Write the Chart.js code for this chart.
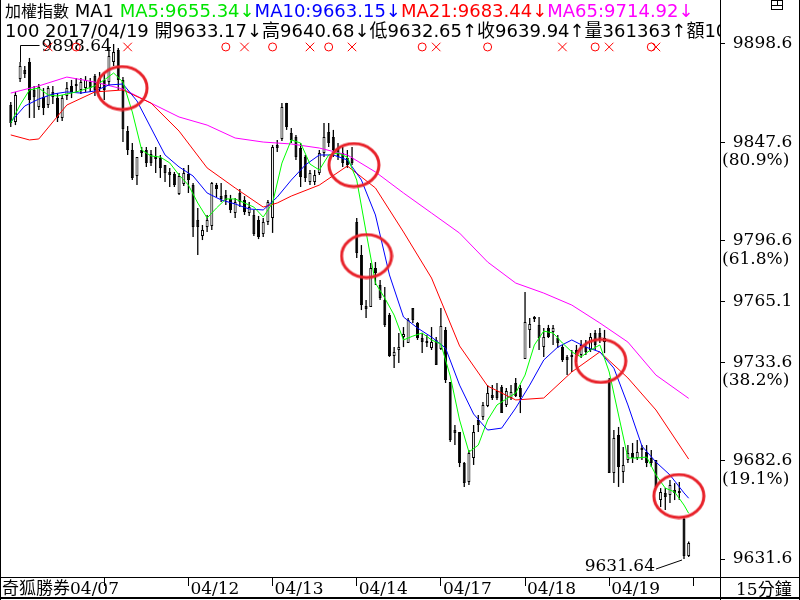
<!DOCTYPE html>
<html>
<head>
<meta charset="utf-8">
<title>加權指數 15分鐘</title>
<script src="https://cdn.jsdelivr.net/npm/chart.js@4.4.1/dist/chart.umd.min.js"></script>
<style>
  html, body { margin: 0; padding: 0; background: #fff; }
  canvas { display: block; }
</style>
</head>
<body>
<canvas id="kline" width="800" height="600"></canvas>
<script>
// 加權指數 15分 K線 2017/04/07 ~ 04/19
const days = ['04/07', '04/10', '04/11', '04/12', '04/13', '04/14', '04/17', '04/18', '04/19'];
const firstDayBars = 2;
const barsPerDay = 18;

const opens = [
  9867.0, 9858.2, 9880.5, 9885.2, 9889.3, 9874.8, 9866.0, 9871.2, 9867.0, 9873.8,
  9870.6, 9860.3, 9871.7, 9876.9, 9877.9, 9874.8, 9875.8, 9878.9, 9882.0, 9875.8,
  9880.0, 9878.9, 9889.3, 9895.5, 9880.0, 9853.5, 9843.7, 9830.2, 9843.7, 9843.7,
  9841.6, 9840.6, 9839.5, 9835.9, 9832.3, 9831.2, 9820.9, 9826.1, 9831.2, 9825.5,
  9807.4, 9799.1, 9803.8, 9804.3, 9825.5, 9819.8, 9820.4, 9818.3, 9811.0, 9821.4,
  9817.8, 9811.0, 9810.0, 9807.4, 9800.1, 9806.4, 9808.4, 9846.3, 9849.4, 9868.1,
  9852.5, 9850.4, 9844.7, 9840.1, 9827.1, 9827.1, 9831.8, 9842.1, 9853.0, 9850.4,
  9844.7, 9842.1, 9839.5, 9839.5, 9806.4, 9789.2, 9762.8, 9762.3, 9782.5, 9773.7,
  9765.9, 9758.1, 9736.9, 9740.0, 9746.7, 9743.6, 9761.8, 9754.0, 9746.2, 9744.7,
  9741.0, 9745.2, 9740.5, 9750.4, 9723.4, 9698.5, 9697.5, 9681.4, 9671.6, 9684.0,
  9703.7, 9705.3, 9711.0, 9716.7, 9718.7, 9720.8, 9711.5, 9715.1, 9722.9, 9720.3,
  9735.3, 9750.4, 9756.1, 9753.0, 9741.5, 9751.4, 9749.3, 9746.2, 9741.5, 9736.4,
  9736.4, 9740.0, 9737.4, 9741.5, 9740.0, 9748.8, 9748.8, 9744.1, 9724.4, 9676.2,
  9695.9, 9676.7, 9683.0, 9686.6, 9684.0, 9689.2, 9687.1, 9684.0, 9683.0, 9662.2,
  9665.9, 9664.8, 9667.4, 9666.9, 9652.4, 9633.17
];
const highs = [
  9868.6, 9873.8, 9889.3, 9887.2, 9891.4, 9876.9, 9877.9, 9875.8, 9876.9, 9876.9,
  9873.2, 9872.2, 9878.9, 9880.0, 9881.0, 9881.0, 9882.0, 9881.0, 9883.1, 9884.1,
  9883.1, 9896.6, 9898.64, 9896.6, 9881.5, 9856.1, 9847.3, 9840.1, 9845.2, 9845.2,
  9843.7, 9845.2, 9841.1, 9835.9, 9834.4, 9832.3, 9831.8, 9834.4, 9835.9, 9826.6,
  9813.6, 9804.8, 9810.0, 9827.1, 9826.6, 9826.6, 9822.9, 9820.4, 9818.8, 9823.5,
  9819.8, 9816.7, 9812.6, 9809.5, 9808.4, 9817.8, 9846.3, 9848.9, 9868.1, 9868.1,
  9855.1, 9851.5, 9847.3, 9841.1, 9833.3, 9833.3, 9843.7, 9857.7, 9857.7, 9854.1,
  9847.3, 9845.2, 9843.7, 9845.2, 9808.4, 9794.4, 9765.9, 9785.1, 9785.6, 9776.3,
  9772.7, 9759.2, 9741.5, 9748.8, 9751.9, 9756.6, 9761.8, 9754.5, 9748.8, 9747.8,
  9751.9, 9746.7, 9761.8, 9751.9, 9723.4, 9701.1, 9697.5, 9681.9, 9688.1, 9701.1,
  9706.3, 9713.0, 9721.8, 9721.8, 9722.9, 9721.8, 9720.3, 9721.8, 9725.5, 9721.8,
  9770.1, 9756.6, 9757.6, 9757.1, 9751.4, 9753.0, 9753.0, 9747.8, 9742.6, 9737.4,
  9740.0, 9742.6, 9745.2, 9745.2, 9748.8, 9750.4, 9751.4, 9750.4, 9725.5, 9698.5,
  9700.1, 9689.7, 9690.7, 9691.8, 9693.3, 9690.7, 9690.7, 9688.1, 9683.0, 9668.4,
  9668.4, 9672.6, 9671.0, 9671.6, 9653.5, 9640.68
];
const lows = [
  9855.6, 9856.6, 9878.9, 9881.0, 9860.3, 9860.3, 9864.4, 9861.8, 9865.5, 9867.5,
  9858.2, 9858.7, 9869.6, 9870.6, 9873.8, 9872.7, 9873.8, 9873.8, 9871.7, 9873.8,
  9869.6, 9876.9, 9887.2, 9874.8, 9847.8, 9841.1, 9828.1, 9825.5, 9840.1, 9834.9,
  9835.4, 9831.8, 9829.2, 9827.1, 9824.5, 9824.5, 9820.4, 9825.0, 9821.4, 9798.6,
  9789.2, 9797.0, 9801.2, 9802.2, 9819.3, 9816.7, 9815.2, 9811.0, 9808.4, 9814.1,
  9810.0, 9809.5, 9799.1, 9797.5, 9798.6, 9804.8, 9800.7, 9842.6, 9848.3, 9854.1,
  9847.3, 9838.5, 9824.5, 9827.1, 9825.5, 9825.5, 9830.7, 9840.1, 9845.2, 9840.1,
  9838.5, 9834.9, 9834.4, 9835.9, 9787.7, 9760.7, 9756.6, 9762.3, 9773.7, 9765.9,
  9751.9, 9736.4, 9730.7, 9733.3, 9741.5, 9743.6, 9754.0, 9745.2, 9738.4, 9741.5,
  9740.0, 9732.2, 9740.0, 9722.9, 9692.3, 9690.7, 9679.3, 9669.0, 9670.0, 9680.4,
  9697.5, 9703.7, 9710.4, 9714.1, 9714.1, 9707.3, 9710.4, 9714.1, 9715.6, 9707.3,
  9735.3, 9741.0, 9754.5, 9740.0, 9736.4, 9746.2, 9742.6, 9741.0, 9733.8, 9727.0,
  9728.6, 9733.8, 9735.8, 9737.4, 9739.0, 9740.0, 9743.6, 9738.4, 9676.2, 9671.0,
  9669.0, 9671.0, 9681.4, 9681.4, 9683.0, 9683.0, 9679.3, 9679.3, 9668.4, 9658.6,
  9657.0, 9660.7, 9662.2, 9662.2, 9631.64, 9632.65
];
const closes = [
  9857.7, 9872.2, 9887.2, 9883.1, 9869.6, 9871.2, 9876.3, 9865.5, 9875.8, 9871.2,
  9860.3, 9870.6, 9875.8, 9873.8, 9876.9, 9878.9, 9880.0, 9875.8, 9874.8, 9881.0,
  9874.8, 9892.4, 9894.5, 9880.0, 9854.6, 9843.7, 9829.2, 9840.1, 9842.1, 9836.9,
  9836.9, 9839.0, 9834.4, 9831.8, 9830.7, 9825.5, 9830.2, 9831.8, 9828.1, 9803.8,
  9803.8, 9802.2, 9807.4, 9826.6, 9823.5, 9818.3, 9817.8, 9812.6, 9816.7, 9816.7,
  9811.5, 9814.1, 9800.1, 9798.6, 9806.4, 9816.7, 9845.2, 9844.7, 9866.0, 9855.6,
  9848.9, 9840.1, 9829.7, 9829.2, 9831.8, 9830.7, 9842.1, 9850.4, 9847.3, 9843.7,
  9840.1, 9836.9, 9835.9, 9836.9, 9790.3, 9763.3, 9761.2, 9782.5, 9779.9, 9767.0,
  9753.0, 9736.9, 9739.0, 9741.5, 9748.3, 9755.5, 9755.5, 9746.2, 9744.1, 9743.6,
  9744.1, 9732.2, 9752.4, 9724.4, 9693.3, 9697.0, 9681.4, 9671.0, 9686.6, 9697.5,
  9701.1, 9711.5, 9717.7, 9715.1, 9715.1, 9707.3, 9718.7, 9718.2, 9716.1, 9715.6,
  9754.5, 9753.5, 9757.1, 9746.2, 9746.7, 9746.7, 9751.4, 9743.6, 9734.8, 9734.8,
  9737.4, 9737.4, 9742.6, 9739.0, 9746.7, 9742.6, 9745.2, 9746.2, 9676.2, 9694.4,
  9679.3, 9680.4, 9686.6, 9684.0, 9687.1, 9688.1, 9681.4, 9681.4, 9669.0, 9666.4,
  9663.8, 9670.0, 9665.9, 9665.9, 9633.2, 9639.94
];

// moving averages: [bar, value]
const ma5 = [[0,9857.7],[2,9867.0],[4,9874.8],[6,9875.8],[8,9872.2],[10,9871.7],[12,9872.7],[14,9873.8],[16,9875.3],[18,9876.9],
  [20,9880.0],[22,9883.6],[24,9878.9],[26,9863.4],[28,9843.7],[30,9840.6],[32,9840.0],[34,9837.0],[36,9830.7],[38,9825.5],
  [40,9816.2],[42,9808.4],[44,9813.6],[46,9818.3],[48,9818.3],[50,9816.2],[52,9814.1],[54,9808.9],[56,9816.2],[58,9836.9],
  [60,9848.9],[62,9847.3],[64,9836.4],[66,9833.3],[68,9841.1],[70,9842.1],[72,9840.0],[74,9828.1],[76,9801.2],[78,9774.7],
  [80,9766.9],[82,9758.1],[84,9745.2],[86,9747.2],[88,9748.8],[90,9745.2],[92,9743.1],[94,9726.5],[96,9703.7],[98,9687.1],
  [100,9690.7],[102,9703.7],[104,9711.5],[106,9714.6],[108,9717.7],[110,9727.0],[112,9742.6],[114,9749.8],[116,9748.8],[118,9743.6],
  [120,9739.0],[122,9736.4],[124,9740.0],[126,9742.6],[128,9728.6],[130,9706.3],[132,9684.0],[134,9684.0],[136,9684.5],[138,9675.2],
  [140,9668.4],[142,9666.4],[144,9659.6],[145,9655.34]];
const ma10 = [[0,9858.2],[3,9866.5],[6,9870.1],[9,9872.7],[12,9873.8],[15,9873.2],[18,9874.3],[21,9877.4],[24,9877.9],[27,9869.1],
  [30,9855.1],[33,9841.1],[36,9834.9],[39,9830.2],[42,9821.4],[45,9817.8],[48,9815.7],[51,9813.1],[54,9812.6],[57,9819.3],
  [60,9828.1],[63,9835.9],[66,9841.1],[69,9841.1],[72,9838.5],[75,9828.1],[78,9810.0],[81,9778.9],[84,9757.1],[87,9751.4],
  [90,9746.7],[93,9741.0],[96,9721.8],[99,9706.8],[102,9698.5],[105,9699.5],[108,9709.9],[111,9721.8],[114,9734.8],[117,9741.5],
  [120,9745.2],[123,9741.5],[126,9739.0],[129,9730.6],[132,9711.5],[135,9690.2],[138,9681.9],[141,9675.2],[144,9665.9],[145,9663.15]];
const ma21 = [[0,9851.5],[4,9848.9],[6,9849.4],[12,9867.0],[18,9873.8],[24,9874.8],[30,9868.0],[36,9853.5],[42,9834.4],[48,9824.0],
  [54,9814.1],[57,9816.2],[60,9819.8],[66,9825.5],[72,9835.4],[78,9824.0],[84,9801.2],[90,9777.3],[96,9742.1],[102,9721.3],
  [108,9714.1],[114,9715.1],[120,9728.6],[126,9739.0],[132,9725.5],[138,9708.9],[145,9683.44]];
const ma65 = [[0,9873.2],[6,9876.9],[12,9881.5],[18,9878.9],[24,9875.3],[30,9868.0],[36,9860.8],[42,9856.6],[48,9849.9],[54,9847.8],
  [60,9846.8],[66,9844.7],[72,9841.1],[78,9832.3],[84,9821.4],[90,9811.0],[96,9800.6],[102,9785.6],[108,9774.7],[114,9769.5],
  [120,9763.3],[126,9754.0],[132,9744.1],[138,9727.0],[145,9714.92]];

// signal row and hand-drawn circles
const signalLevel = 9897.1;
const buyMarks = [14, 46, 56, 68, 88, 102, 125, 137];
const sellMarks = [8, 25, 50, 64, 73, 91, 118, 128, 138];
const circleBars = [23.8, 73.4, 76.1, 126.2, 142.9];
const circleVals = [9875.8, 9835.9, 9788.7, 9734.3, 9664.3];

// right axis: golden section levels of the window
const fibLevels = [9631.64, 9682.64, 9733.64, 9765.14, 9796.64, 9847.64, 9898.64];
const fibPct = ['', '(19.1%)', '(38.2%)', '', '(61.8%)', '(80.9%)', ''];

const titleName = '加權指數';
const header1 = [[' MA1 ', '#000'], ['MA5:9655.34↓', '#00e400'], ['MA10:9663.15↓', '#0000ff'],
  ['MA21:9683.44↓', '#ff0000'], ['MA65:9714.92↓', '#ff00ff']];
const header2 = '100 2017/04/19 開9633.17↓高9640.68↓低9632.65↑收9639.94↑量361363↑額10';
const brand = '奇狐勝券';
const period = '15分鐘';

const serif = '"DejaVu Serif", "Noto Sans CJK TC", serif';
const sans = '"DejaVu Sans", "Noto Sans CJK TC", sans-serif';
const xMin = -2.3, xMax = 151.7, yMin = 9622.31, yMax = 9921.45;
const highLabelBar = 2;

// day ticks
const xTicks = [{ value: xMin, text: brand + days[0] }];
for (let k = 2; k < days.length; k++) {
  xTicks.push({ value: firstDayBars + (k - 1) * barsPerDay, text: k === 2 ? '' : days[k] });
}
xTicks.push({ value: firstDayBars + (days.length - 1) * barsPerDay, text: '' });

function ring(w, h) {
  const cv = document.createElement('canvas');
  cv.width = w + 4; cv.height = h + 4;
  const g = cv.getContext('2d');
  g.strokeStyle = '#e8222a';
  g.lineWidth = 3;
  g.beginPath();
  g.ellipse(cv.width / 2, cv.height / 2, w / 2, h / 2, 0, 0, Math.PI * 2);
  g.stroke();
  return cv;
}

const pts = arr => arr.map(([x, y]) => ({ x, y }));
const maLine = (label, arr, color) => ({
  type: 'line', label, data: pts(arr), borderColor: color, borderWidth: 1,
  pointRadius: 0, tension: 0, fill: false
});

const frame = {
  id: 'frame',
  beforeDraw(chart) {
    const c = chart.ctx;
    c.save();
    c.fillStyle = '#fff';
    c.fillRect(0, 0, chart.width, chart.height);
    c.restore();
  },
  beforeDatasetsDraw(chart) {
    const { ctx: c, scales: { x, y } } = chart;
    const hi = Math.max(...highs), lo = Math.min(...lows);
    const iLo = lows.indexOf(lo);
    c.save();
    c.strokeStyle = '#000'; c.fillStyle = '#000'; c.lineWidth = 1;
    c.font = '17px ' + serif;
    c.textBaseline = 'middle';
    const xh = Math.round(x.getPixelForValue(highLabelBar)) + 0.5;
    const yh = Math.round(y.getPixelForValue(hi)) + 1.5;
    c.beginPath();
    c.moveTo(xh, y.getPixelForValue(highs[highLabelBar]));
    c.lineTo(xh, yh); c.lineTo(xh + 19, yh);
    c.stroke();
    c.textAlign = 'left';
    c.fillText(hi.toFixed(2), xh + 21, yh + 1);
    const xl = x.getPixelForValue(iLo), yl = y.getPixelForValue(lo);
    c.beginPath();
    c.moveTo(xl - 2, yl + 1); c.lineTo(xl - 28, yl + 10);
    c.stroke();
    c.textAlign = 'right';
    c.fillText(lo.toFixed(2), xl - 29, yl + 8);
    c.restore();
  },
  afterDraw(chart) {
    const c = chart.ctx, a = chart.chartArea, W = chart.width, H = chart.height;
    c.save();
    // header
    c.beginPath(); c.rect(0, 0, a.right, 40); c.clip();
    c.textBaseline = 'alphabetic';
    c.fillStyle = '#000';
    c.font = '16px ' + sans;
    c.fillText(titleName, 5, 17);
    let px = 5 + c.measureText(titleName).width;
    c.font = '18px ' + sans;
    header1.forEach(([t, col]) => {
      c.fillStyle = col;
      c.fillText(t, px, 17);
      px += c.measureText(t).width;
    });
    c.fillStyle = '#000';
    c.fillText(header2, 5, 37);
    c.restore();

    c.save();
    c.strokeStyle = '#000';
    c.lineWidth = 1;
    c.beginPath();
    c.moveTo(0.5, 0); c.lineTo(0.5, H);
    c.moveTo(W - 0.5, 0); c.lineTo(W - 0.5, H);
    c.moveTo(a.right + 0.5, 0); c.lineTo(a.right + 0.5, H);
    c.moveTo(0, a.bottom + 0.5); c.lineTo(W, a.bottom + 0.5);
    c.stroke();
    c.lineWidth = 2;
    c.beginPath(); c.moveTo(0, H - 2); c.lineTo(W, H - 2); c.stroke();
    // small window icon
    c.lineWidth = 1;
    c.strokeRect(771.5, 0.5, 11, 9);
    c.beginPath(); c.moveTo(771.5, 5.5); c.lineTo(782.5, 5.5); c.moveTo(777.5, 0.5); c.lineTo(777.5, 5.5); c.stroke();
    c.fillStyle = '#000';
    c.font = '17px ' + serif;
    c.textAlign = 'left';
    c.textBaseline = 'alphabetic';
    c.fillText(period, a.right + 16, H - 5);
    c.restore();
  }
};

const idx = closes.map((_, i) => i);

new Chart(document.getElementById('kline'), {
  type: 'bar',
  data: {
    datasets: [
      {
        type: 'scatter', label: 'o', data: buyMarks.map(i => ({ x: i, y: signalLevel })),
        pointStyle: 'circle', pointRadius: 4, borderColor: '#ff0000', backgroundColor: 'rgba(0,0,0,0)', borderWidth: 1
      },
      {
        type: 'scatter', label: 'x', data: sellMarks.map(i => ({ x: i, y: signalLevel })),
        pointStyle: 'crossRot', pointRadius: 6, borderColor: '#ff0000', borderWidth: 1
      },
      {
        type: 'scatter', label: 'circles', data: circleBars.map((b, i) => ({ x: b, y: circleVals[i] })),
        pointStyle: ring(50, 43), pointRadius: 25
      },
      maLine('MA5', ma5, '#00ff00'),
      maLine('MA10', ma10, '#0000ff'),
      maLine('MA21', ma21, '#ff0000'),
      maLine('MA65', ma65, '#ff00ff'),
      {
        label: 'body', data: idx.map(i => ({ x: i, y: [opens[i], closes[i]] })),
        backgroundColor: c => closes[c.dataIndex] >= opens[c.dataIndex] ? '#ffffff' : '#000000',
        borderColor: '#000', borderWidth: 1, borderSkipped: false,
        barThickness: 3, minBarLength: 1, grouped: false, inflateAmount: 0
      },
      {
        label: 'wick', data: idx.map(i => ({ x: i, y: [lows[i], highs[i]] })),
        backgroundColor: '#000', borderWidth: 0, barThickness: 1.3, grouped: false, inflateAmount: 0
      }
    ]
  },
  options: {
    responsive: false,
    animation: false,
    devicePixelRatio: 1,
    events: [],
    layout: { padding: 0, autoPadding: false },
    plugins: { legend: { display: false }, tooltip: { enabled: false } },
    scales: {
      x: {
        type: 'linear', min: xMin, max: xMax, offset: false,
        afterBuildTicks: s => { s.ticks = xTicks.map(t => ({ value: t.value })); },
        afterFit: s => { s.height = 23; s.paddingLeft = 0; s.paddingRight = 0; },
        border: { display: false },
        grid: {
          offset: false, drawOnChartArea: false, tickLength: 9, lineWidth: 1,
          color: c => c.index === 0 ? 'rgba(0,0,0,0)' : '#000'
        },
        ticks: {
          autoSkip: false, maxRotation: 0, minRotation: 0, align: 'start', padding: -7, labelOffset: 2,
          color: '#000', font: { family: serif, size: 17 },
          callback: (v, i) => xTicks[i] ? xTicks[i].text : ''
        }
      },
      y: {
        position: 'right', min: yMin, max: yMax,
        afterBuildTicks: s => { s.ticks = fibLevels.map(v => ({ value: v })); },
        afterFit: s => { s.width = 80; s.paddingTop = 0; s.paddingBottom = 0; },
        border: { display: false },
        grid: { drawOnChartArea: false, tickLength: 5, color: '#000' },
        ticks: {
          autoSkip: false, padding: -3, labelOffset: 9.35, color: '#000',
          font: { family: serif, size: 17, lineHeight: 1.1 },
          callback: (v, i) => ['  ' + fibLevels[i].toFixed(1), fibPct[i]]
        }
      }
    }
  },
  plugins: [frame]
});
</script>
</body>
</html>
